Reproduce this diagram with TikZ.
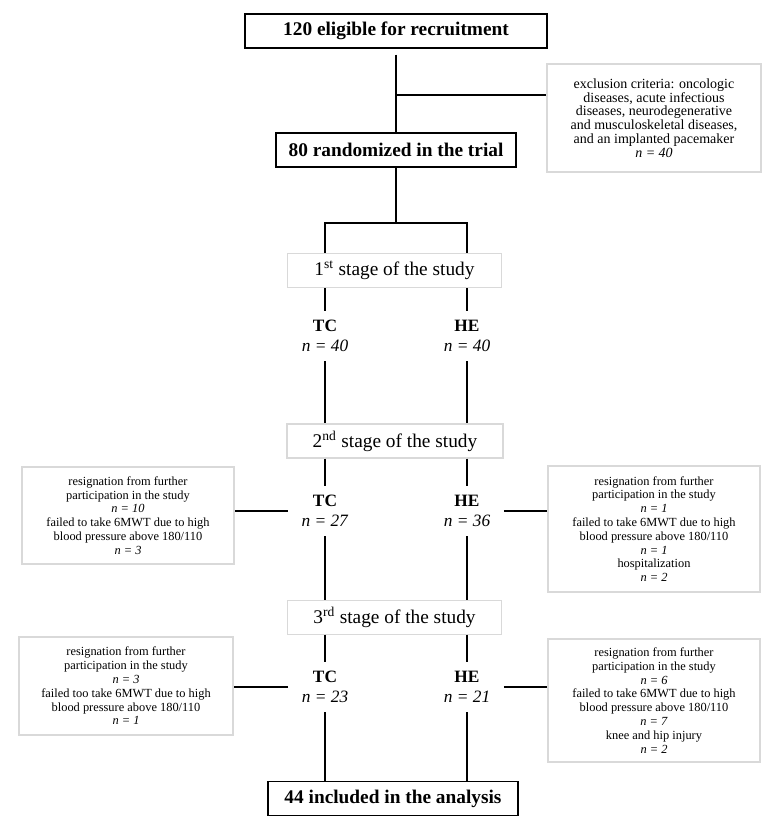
\documentclass[tikz,border=0pt]{standalone}
\usepackage{fontspec}
\setmainfont{Liberation Serif}

\begin{document}
\begin{tikzpicture}[x=0.75pt,y=-0.75pt]
% styles des boîtes
\tikzstyle{mainbox}=[rectangle,draw,line width=0.8pt,inner sep=0pt,font=\fontsize{14.5}{16}\selectfont\bfseries]
\tikzstyle{stage}=[rectangle,draw=gray!30,line width=0.8pt,inner sep=0pt,font=\fontsize{14.5}{16}\selectfont]
\tikzstyle{side}=[rectangle,draw=gray!30,line width=0.8pt,inner sep=0pt,align=center,font=\fontsize{9.3}{10.35}\selectfont]
\tikzstyle{group}=[align=center,inner xsep=10pt,inner ysep=7pt,font=\fontsize{13}{15}\selectfont]
% style des traits
\tikzstyle{link}=[line width=1.5pt]
\useasboundingbox (0,0) rectangle (779,830);
% boîtes principales
\node[mainbox,minimum width=226.5pt,minimum height=25.5pt] (elig) at (396,31) {120 eligible for recruitment};
\node[mainbox,minimum width=180pt,minimum height=25.5pt] (rand) at (396,150) {80 randomized in the trial};
\node[mainbox,minimum width=187.5pt,minimum height=26pt] (final) at (393,798.5) {44 included in the analysis};
\node[side,minimum width=160.5pt,minimum height=81pt,font=\fontsize{10.5}{10.35}\selectfont] (excl) at (654,118) {exclusion criteria: oncologic\\ diseases, acute infectious\\ diseases, neurodegenerative\\ and musculoskeletal diseases,\\ and an implanted pacemaker\\ \textit{n = 40}};
% étapes
\node[stage,minimum width=160pt,minimum height=26pt] (stage1) at (394.5,270.5) {1\textsuperscript{st} stage of the study};
\node[stage,minimum width=162pt,minimum height=25.5pt] (stage2) at (395,441) {2\textsuperscript{nd} stage of the study};
\node[stage,minimum width=161pt,minimum height=25pt] (stage3) at (394.5,617.5) {3\textsuperscript{rd} stage of the study};
% groupes
\node[group] (tc1) at (325,336) {\textbf{TC}\\ \textit{n = 40}};
\node[group] (he1) at (467,336) {\textbf{HE}\\ \textit{n = 40}};
\node[group] (tc2) at (325,511) {\textbf{TC}\\ \textit{n = 27}};
\node[group] (he2) at (467,511) {\textbf{HE}\\ \textit{n = 36}};
\node[group] (tc3) at (325,687) {\textbf{TC}\\ \textit{n = 23}};
\node[group] (he3) at (467,687) {\textbf{HE}\\ \textit{n = 21}};
% abandons
\node[side,minimum width=159pt,minimum height=72.75pt] (drop2tc) at (128,515.5) {resignation from further\\ participation in the study\\ \textit{n = 10}\\ failed to take 6MWT due to high\\ blood pressure above 180/110\\ \textit{n = 3}};
\node[side,minimum width=159pt,minimum height=94.5pt] (drop2he) at (654,529) {resignation from further\\ participation in the study\\ \textit{n = 1}\\ failed to take 6MWT due to high\\ blood pressure above 180/110\\ \textit{n = 1}\\ hospitalization\\ \textit{n = 2}};
\node[side,minimum width=160.5pt,minimum height=73.5pt] (drop3tc) at (126,686) {resignation from further\\ participation in the study\\ \textit{n = 3}\\ failed too take 6MWT due to high\\ blood pressure above 180/110\\ \textit{n = 1}};
\node[side,minimum width=159pt,minimum height=92.25pt] (drop3he) at (654,700.5) {resignation from further\\ participation in the study\\ \textit{n = 6}\\ failed to take 6MWT due to high\\ blood pressure above 180/110\\ \textit{n = 7}\\ knee and hip injury\\ \textit{n = 2}};
% points de jonction
\coordinate (excljoin) at (396,95);
\coordinate (split) at (396,223);
% traits
\draw[link,shorten <=4.5pt] (elig) -- (rand);
\draw[link] (excljoin) -- (excljoin -| excl.west);
\draw[link] (rand) -- (split);
\draw[link] (stage1.north -| tc1) |- (split) -| (stage1.north -| he1);
\draw[link] (stage1.south -| tc1) -- (tc1);
\draw[link] (stage1.south -| he1) -- (he1);
\draw[link] (tc1) -- (stage2.north -| tc1);
\draw[link] (he1) -- (stage2.north -| he1);
\draw[link] (stage2.south -| tc2) -- (tc2);
\draw[link] (stage2.south -| he2) -- (he2);
\draw[link] (tc2) -- (stage3.north -| tc2);
\draw[link] (he2) -- (stage3.north -| he2);
\draw[link] (stage3.south -| tc3) -- (tc3);
\draw[link] (stage3.south -| he3) -- (he3);
\draw[link] (tc3) -- (final.north -| tc3);
\draw[link] (he3) -- (final.north -| he3);
\draw[link] (tc2.west) -- (tc2.west -| drop2tc.east);
\draw[link] (he2.east) -- (he2.east -| drop2he.west);
\draw[link] (tc3.west) -- (tc3.west -| drop3tc.east);
\draw[link] (he3.east) -- (he3.east -| drop3he.west);
\end{tikzpicture}
\end{document}
